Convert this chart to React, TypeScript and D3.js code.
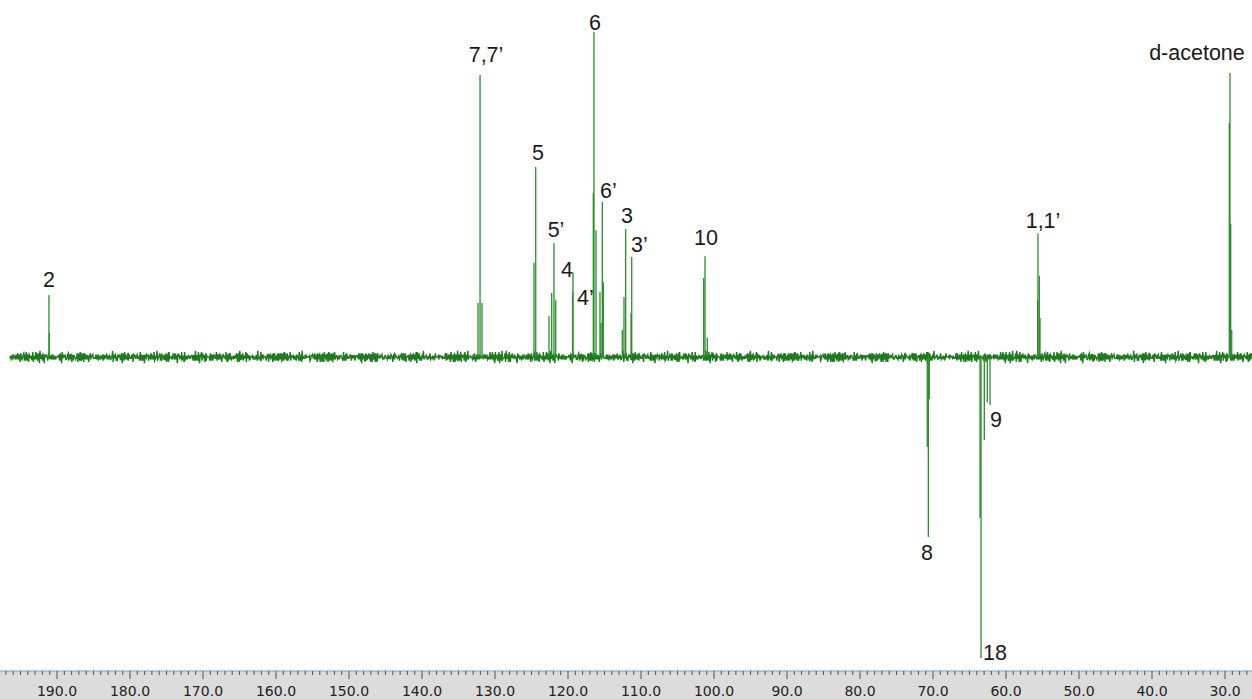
import React from 'react'
import * as d3 from 'd3'

// chemical shift (ppm) and signed intensity of each line (DEPT: CH2 negative)
const peakPpm = [
  191.1, 191.05,
  132.05, 132.33, 131.78,
  124.42, 124.66,
  121.92, 122.23, 122.6, 121.68,
  119.32, 119.36,
  116.44, 116.53, 116.16, 115.62,
  115.3, 115.16, 115.48,
  112.1, 112.33, 112.56,
  111.27, 111.37,
  101.23, 101.41, 100.92,
  55.62, 55.44, 55.66, 55.34,
  29.32, 29.41, 29.22, 29.08,
  70.64, 70.78, 70.51,
  63.42, 63.56, 62.97,
  62.19, 62.56,
]
const peakIntensity = [
  19.1, 7.4,
  86.8, 16.6, 16.6,
  58.5, 29,
  35, 19.7, 12.6, 17.5,
  26, 20,
  100, 50.5, 39, 20,
  47.7, 23, 10.5,
  39.4, 18.5, 8.3,
  30.8, 13.5,
  31, 24.3, 6,
  38, 25, 17.5, 12,
  87.4, 72, 41, 8.3,
  -55.4, -27.7, -13,
  -92.6, -49.5, -25.5,
  -14.8, -14,
]

// peak assignments
const labelText = ['2', '7,7\u2019', '6', '5', '6\u2019', '5\u2019', '3', '3\u2019', '4', '4\u2019', '10', '1,1\u2019', 'd-acetone', '8', '9', '18']
const labelPpm = [191.1, 131.23, 116.3, 124.1, 115.62, 121.64, 111.92, 111.37, 120.14, 118.77, 101.1, 54.93, 33.84, 70.82, 61.37, 63.15]
const labelLevel = [21.5, 90.8, 100.6, 60.6, 48.9, 36.9, 41.2, 32.3, 24.6, 16.0, 34.5, 39.7, 91.4, -62.5, -21.5, -93.2]
const labelAnchor = ['middle', 'middle', 'middle', 'middle', 'start', 'middle', 'middle', 'start', 'middle', 'start', 'middle', 'middle', 'middle', 'middle', 'middle', 'start']

const axisTicks = [190, 180, 170, 160, 150, 140, 130, 120, 110, 100, 90, 80, 70, 60, 50, 40, 30]

// baseline noise texture (pixel offsets)
const noiseA = [1, -2, 3, -1, 0, 2, -3, 1, -1, 2, 0, -2, 3, -3, 1, 0, -1, 2, -2, 1, 3, -1, 0, -3, 2, -1, 1, -2, 0, 2, -1, 3, -2, 1, -1, 0, 2]
const noiseB = [0, 1, -1, 2, -2, 0, 1, -1, 1, 0, -2, 2, -1, 0, 1, -2, 1, 2, -1, 0, -1, 1, -2]

const W = 1252
const H = 699

export default function App() {
  const x = d3.scaleLinear().domain([190, 30]).range([57, 1225])
  const y = d3.scaleLinear().domain([0, 100]).range([357, 32])
  const y0 = y(0)

  const axisY = 671
  const green = '#2c8c2c'

  const noisePts: [number, number][] = []
  for (let px = 10, i = 0; px <= W; px += 0.6, i++) {
    noisePts.push([px, y0 + (noiseA[i % noiseA.length] + noiseB[i % noiseB.length]) * 1.25])
  }
  const noiseLine = d3.line()(noisePts) || ''

  const minorTicks = d3.range(197, 26, -1)

  return (
    <svg width={W} height={H} style={{ position: 'absolute', left: 0, top: 0, background: '#fff' }}>
      <path d={noiseLine} fill="none" stroke="#1e7a1e" strokeWidth={1.4} />
      {peakPpm.map((p, i) => (
        <line key={i} x1={x(p)} x2={x(p)} y1={y0} y2={y(peakIntensity[i])} stroke={green} strokeWidth={1.3} />
      ))}
      {labelText.map((t, i) => (
        <text
          key={t}
          x={x(labelPpm[i])}
          y={y(labelLevel[i])}
          textAnchor={labelAnchor[i]}
          fontFamily="'Liberation Sans', Arial, sans-serif"
          fontSize={21.5}
          fill="#1a1a1a"
        >
          {t}
        </text>
      ))}
      <rect x={0} y={axisY} width={W} height={H - axisY} fill="#dcdcdc" />
      <line x1={0} x2={W} y1={axisY} y2={axisY} stroke="#9db8dc" strokeWidth={1.5} />
      {minorTicks.map(v => (
        <line key={v} x1={x(v)} x2={x(v)} y1={axisY} y2={v % 10 === 0 ? axisY + 8 : axisY + 4} stroke="#555" strokeWidth={1} />
      ))}
      {axisTicks.map(v => (
        <text key={v} x={x(v)} y={696} textAnchor="middle" fontFamily="'DejaVu Sans', Tahoma, sans-serif" fontSize={14} fill="#222">
          {d3.format('.1f')(v)}
        </text>
      ))}
    </svg>
  )
}
